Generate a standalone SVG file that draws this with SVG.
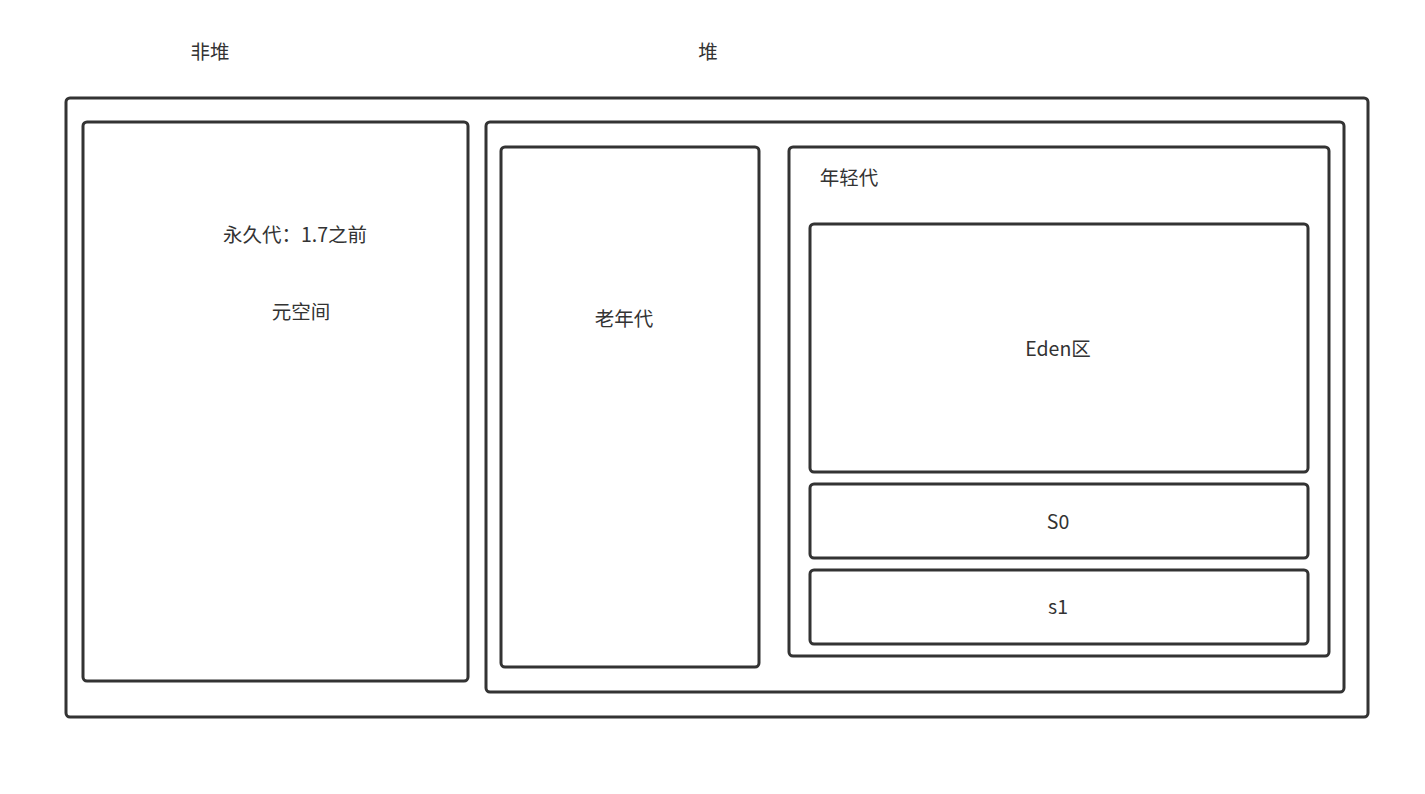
<svg xmlns="http://www.w3.org/2000/svg" width="1425" height="794" viewBox="0 0 1425 794">
<style>
.box{fill:#fff;stroke:#333;stroke-width:3}
text{font-family:"Noto Sans CJK SC","Liberation Sans",sans-serif;font-size:19.5px;fill:#333;text-anchor:middle}
</style>
<rect x="0" y="0" width="1425" height="794" fill="#fff"/>
<g id="label-nonheap"><text x="210" y="59">非堆</text></g>
<g id="label-heap"><text x="708" y="59">堆</text></g>
<g id="outer"><rect class="box" x="66" y="98" width="1302" height="619" rx="4"/></g>
<g id="nonheap"><rect class="box" x="83" y="122" width="385" height="559" rx="4"/>
<text x="295" y="242">永久代：1.7之前</text>
<text x="301" y="319">元空间</text></g>
<g id="heap"><rect class="box" x="486" y="122" width="858" height="570" rx="4"/></g>
<g id="old"><rect class="box" x="501" y="147" width="258" height="520" rx="4"/>
<text x="624" y="326">老年代</text></g>
<g id="young"><rect class="box" x="789" y="147" width="540" height="509" rx="4"/>
<text x="849" y="185">年轻代</text></g>
<g id="eden"><rect class="box" x="810" y="224" width="498" height="248" rx="4"/>
<text x="1058" y="356">Eden区</text></g>
<g id="s0"><rect class="box" x="810" y="484" width="498" height="74" rx="4"/>
<text x="1058" y="529">S0</text></g>
<g id="s1"><rect class="box" x="810" y="570" width="498" height="74" rx="4"/>
<text x="1058" y="614">s1</text></g>
<g id="connectors"></g>
</svg>
